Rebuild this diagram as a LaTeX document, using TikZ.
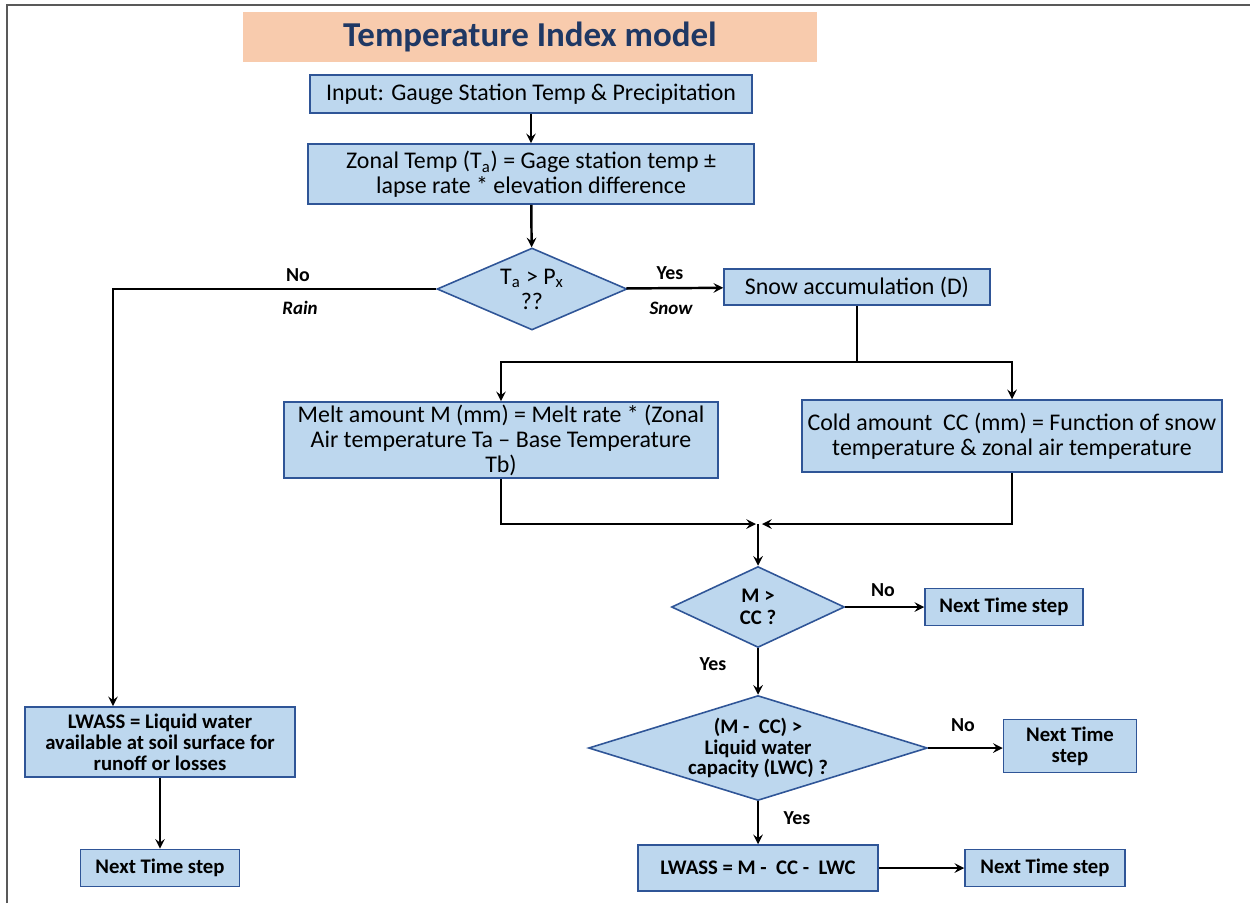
\documentclass[tikz,border=0pt]{standalone}
\usepackage{fontspec}
\setmainfont{Carlito}
\usetikzlibrary{arrows,shapes.geometric}
\definecolor{boxfill}{HTML}{BDD7EE}
\definecolor{boxline}{HTML}{2F5597}
\definecolor{titlefill}{HTML}{F8CBAD}
\definecolor{titletext}{HTML}{1F3864}
\tikzset{>=stealth,font=\fontsize{13.6}{14.2}\selectfont}
\tikzset{
  blk/.style={rectangle,draw=boxline,fill=boxfill,line width=0.9pt,align=center,inner sep=0pt},
  bblk/.style={blk,font=\bfseries\fontsize{11.8}{12}\selectfont},
  dec/.style={diamond,draw=boxline,fill=boxfill,line width=0.9pt,align=center,inner sep=0pt,aspect=2.2},
  lbl/.style={font=\bfseries\fontsize{11.3}{12}\selectfont},
  ilbl/.style={font=\bfseries\itshape\fontsize{10.8}{12}\selectfont},
  flow/.style={line width=1.4pt},
}

\begin{document}
\begin{tikzpicture}[x=0.02cm,y=-0.02cm]
\useasboundingbox (0,0) rectangle (1250,903);
\draw[black!65,line width=1.4pt] (7,903) -- (7,5) -- (1250,5);

% title
\node[fill=titlefill,minimum width=11.5cm,minimum height=1cm,text=titletext,font=\bfseries\fontsize{19.9}{20}\selectfont] (T) at (530,37) {Temperature Index model};

% main column
\node[blk,minimum width=8.84cm,minimum height=0.76cm] (In) at (531,94) {Input: Gauge Station Temp \& Precipitation};
\node[blk,minimum width=8.92cm,minimum height=1.2cm] (Z) at (531,174) {Zonal Temp (T\textsubscript{a}) = Gage station temp ±\\lapse rate * elevation difference};
\node[dec,minimum width=3.8cm,minimum height=1.64cm] (D1) at (532,289) {T\textsubscript{a} > P\textsubscript{x}\\??};
\node[blk,minimum width=5.32cm,minimum height=0.72cm] (S) at (857,287) {Snow accumulation (D)};
\node[blk,minimum width=8.68cm,minimum height=1.52cm] (M) at (501,440) {Melt amount M (mm) = Melt rate * (Zonal\\Air temperature Ta -- Base Temperature\\Tb)};
\node[blk,minimum width=8.4cm,minimum height=1.44cm] (C) at (1012,436) {Cold amount~~CC (mm) = Function of snow\\temperature \& zonal air temperature};
\node[dec,font=\bfseries\fontsize{11.8}{12.5}\selectfont,minimum width=3.46cm,minimum height=1.62cm] (D2) at (758,607) {M >\\CC ?};
\node[bblk,minimum width=3.16cm,minimum height=0.74cm] (N1) at (1004,607) {Next Time step};
\node[dec,aspect=3.2,font=\bfseries\fontsize{11.8}{11.6}\selectfont,minimum width=6.78cm,minimum height=2.1cm] (D3) at (758,748) {(M -~~CC) >\\Liquid water\\capacity (LWC) ?};
\node[bblk,minimum width=2.66cm,minimum height=1.06cm] (N2) at (1070,746) {Next Time\\step};
\node[bblk,minimum width=4.8cm,minimum height=0.92cm] (L2) at (758,868) {LWASS = M -~~CC -~~LWC};
\node[bblk,minimum width=3.2cm,minimum height=0.74cm] (N3) at (1045,868) {Next Time step};

% rain branch
\node[bblk,minimum width=5.4cm,minimum height=1.4cm] (L1) at (160,742) {LWASS = Liquid water\\available at soil surface for\\runoff or losses};
\node[bblk,minimum width=3.18cm,minimum height=0.74cm] (N4) at (160,868) {Next Time step};

\coordinate (rc) at (113,289);
\coordinate (sp) at (857,362);
\coordinate (jl) at (756,524);
\coordinate (jr) at (762,524);
\coordinate (jn) at (758,524);

\draw[flow,->] (In) -- (Z);
\draw[flow,->] (Z) -- (D1);
\draw[flow,->] (D1) -- (S);
\draw[flow,->] (D1.west) -- (rc) -- (rc |- L1.north);
\draw[flow] (S) -- (sp);
\draw[flow,->] (sp) -| (M);
\draw[flow,->] (sp) -| (C);
\draw[flow,->] (M) |- (jl);
\draw[flow,->] (C) |- (jr);
\draw[flow,->] (jn) -- (D2);
\draw[flow,->] (D2) -- (N1);
\draw[flow,->] (D2) -- (D3);
\draw[flow,->] (D3) -- (N2.west |- D3);
\draw[flow,->] (D3) -- (L2);
\draw[flow,->] (L2) -- (N3);
\draw[flow,->] (L1) -- (N4);

% branch labels
\node[lbl] (no1) at (298,275) {No};
\node[ilbl] (rain) at (300,308) {Rain};
\node[lbl] (yes1) at (670,273) {Yes};
\node[ilbl] (snow) at (671,308) {Snow};
\node[lbl] (no2) at (883,590) {No};
\node[lbl] (yes2) at (713,664) {Yes};
\node[lbl] (no3) at (963,725) {No};
\node[lbl] (yes3) at (797,818) {Yes};
\end{tikzpicture}
\end{document}
